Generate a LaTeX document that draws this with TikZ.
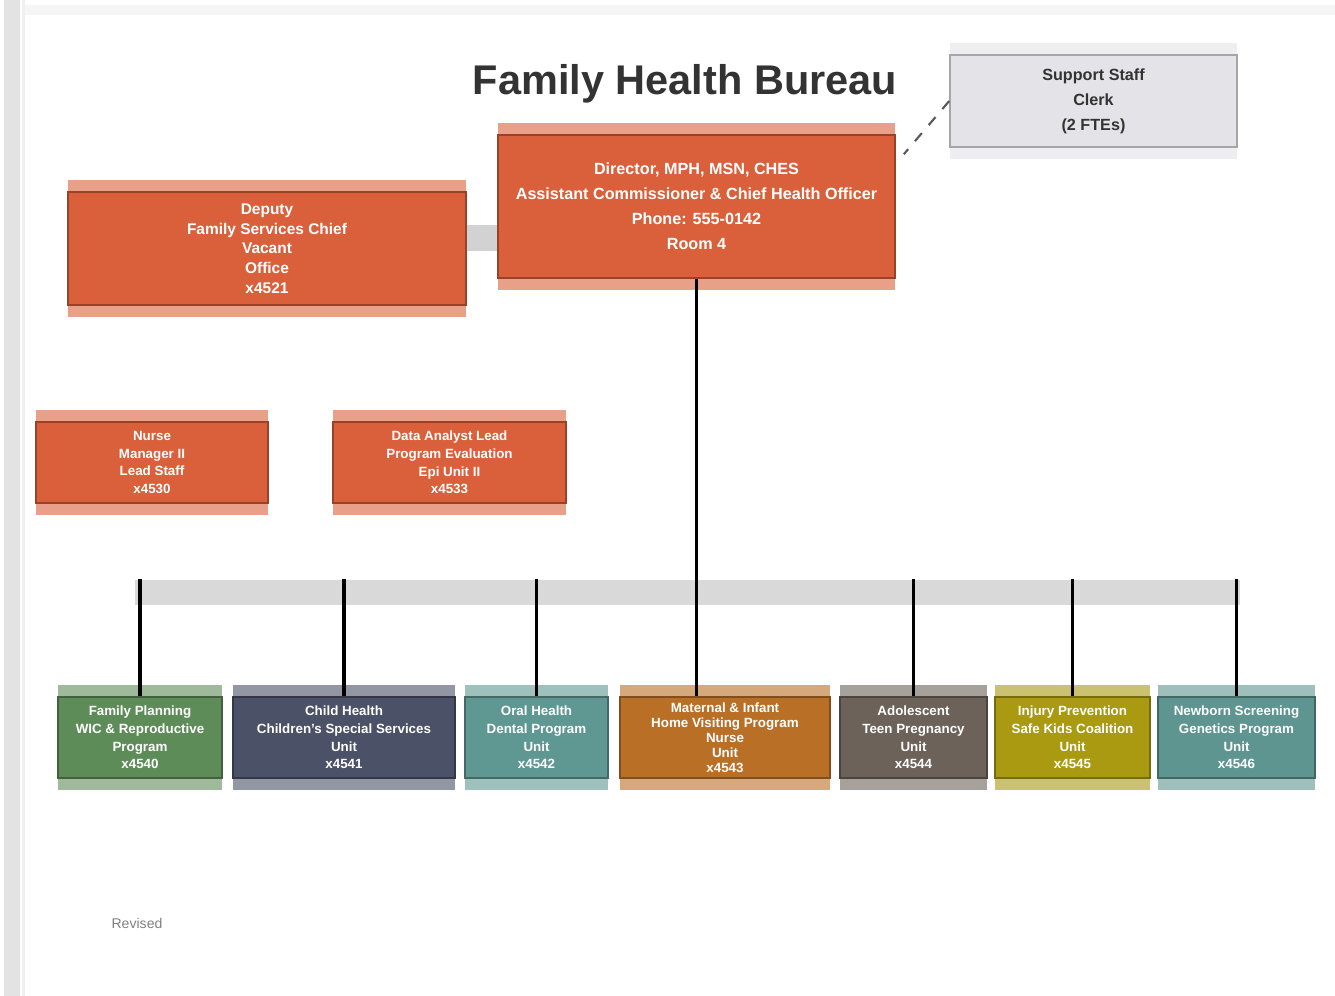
\documentclass[tikz,border=0pt]{standalone}
\usepackage{fontspec}
\setmainfont{Liberation Sans}
\usepackage{tikz}
\usetikzlibrary{positioning, calc}

\definecolor{brick}{HTML}{D9603B}
\definecolor{leaf}{HTML}{5E8C58}
\definecolor{slate}{HTML}{4B5166}
\definecolor{sea}{HTML}{5F9892}
\definecolor{ochre}{HTML}{BA6F27}
\definecolor{taupe}{HTML}{6C625A}
\definecolor{olive}{HTML}{A99A12}
\definecolor{sea2}{HTML}{5E9590}
\definecolor{mist}{HTML}{E3E3E8}
\definecolor{ink}{HTML}{333333}

\begin{document}
\begin{tikzpicture}[
  x=0.01cm, y=-0.01cm,
  unit/.style={rectangle, fill=#1, draw=#1!70!black, line width=0.4pt, text=white, align=center, inner sep=1pt,
    preaction={fill=#1!60!white, draw=none, transform canvas={yshift=0.12cm}},
    preaction={fill=#1!60!white, draw=none, transform canvas={yshift=-0.12cm}}},
  big/.style={font=\fontsize{4.6}{7.1}\selectfont\bfseries},
  mid/.style={font=\fontsize{4.4}{5.6}\selectfont\bfseries},
  small/.style={font=\fontsize{3.8}{5}\selectfont\bfseries},
  tight/.style={font=\fontsize{3.8}{4.3}\selectfont\bfseries},
  link/.style={line width=0.9pt, black},
  gbar/.style={line width=0.26cm, gray!35},
]
\useasboundingbox (0,0) rectangle (1335,996);
% page frame
\fill[gray!22] (4,0) rectangle (20,996);
\fill[gray!12] (22,0) rectangle (25,996);
\fill[gray!8] (25,5) rectangle (1335,15);

\node[font=\fontsize{11.8}{12}\selectfont\bfseries, text=ink] (title) at (685,84) {Family Health Bureau};

\node[unit=mist, draw=gray!70, text=ink, big, minimum width=2.87cm, minimum height=0.92cm] (staff) at (1093.5,101)
  {Support Staff\\Clerk\\(2 FTEs)};
\node[unit=brick, big, minimum width=3.97cm, minimum height=1.43cm] (dir) at (696.5,206.5)
  {Director, MPH, MSN, CHES\\Assistant Commissioner \& Chief Health Officer\\Phone: 555-0142\\Room 4};
\node[unit=brick, mid, minimum width=3.98cm, minimum height=1.13cm] (dep) at (267,248.5)
  {Deputy\\Family Services Chief\\Vacant\\Office\\x4521};
\node[unit=brick, small, minimum width=2.32cm, minimum height=0.81cm] (nurse) at (152,462.5)
  {Nurse\\Manager II\\Lead Staff\\x4530};
\node[unit=brick, small, minimum width=2.33cm, minimum height=0.81cm] (data) at (449.5,462.5)
  {Data Analyst Lead\\Program Evaluation\\Epi Unit II\\x4533};

\node[rectangle, fill=gray!30, minimum width=11.05cm, minimum height=0.25cm, inner sep=0pt] (bus) at (687.5,592.5) {};

\node[unit=leaf, small, minimum width=1.64cm, minimum height=0.81cm] (b1) at (140,737.5)
  {Family Planning\\WIC \& Reproductive\\Program\\x4540};
\node[unit=slate, small, minimum width=2.22cm, minimum height=0.81cm] (b2) at (344,737.5)
  {Child Health\\Children's Special Services\\Unit\\x4541};
\node[unit=sea, small, minimum width=1.43cm, minimum height=0.81cm] (b3) at (536.5,737.5)
  {Oral Health\\Dental Program\\Unit\\x4542};
\node[unit=ochre, tight, minimum width=2.10cm, minimum height=0.81cm] (b4) at (725,737.5)
  {Maternal \& Infant\\Home Visiting Program\\Nurse\\Unit\\x4543};
\node[unit=taupe, small, minimum width=1.47cm, minimum height=0.81cm] (b5) at (913.5,737.5)
  {Adolescent\\Teen Pregnancy\\Unit\\x4544};
\node[unit=olive, small, minimum width=1.55cm, minimum height=0.81cm] (b6) at (1072.5,737.5)
  {Injury Prevention\\Safe Kids Coalition\\Unit\\x4545};
\node[unit=sea2, small, minimum width=1.57cm, minimum height=0.81cm] (b7) at (1236.5,737.5)
  {Newborn Screening\\Genetics Program\\Unit\\x4546};

\node[font=\fontsize{4}{5}\selectfont, text=gray] (rev) at (137,923) {Revised};

\draw[gbar] (dep.east |- 0,238) -- (dir.west |- 0,238);
\draw[dashed, gray!70!black, line width=0.6pt] (staff.west) -- ($(dir.north east)+(8,20)$);
\draw[link] ($(dep.south west)!0.25!(dep.south east)$) -- ($(dep.south west)!0.25!(dep.south east)$ |- nurse.north);
\draw[link] ($(dep.south west)!0.875!(dep.south east)$) -- ($(dep.south west)!0.875!(dep.south east)$ |- data.north);
\draw[link] (dir.south) -- (dir.south |- b4.north);
\foreach \b in {b1,b2,b3,b5,b6,b7}
  \draw[link] (\b.north |- bus.north) -- (\b.north);
\end{tikzpicture}
\end{document}
